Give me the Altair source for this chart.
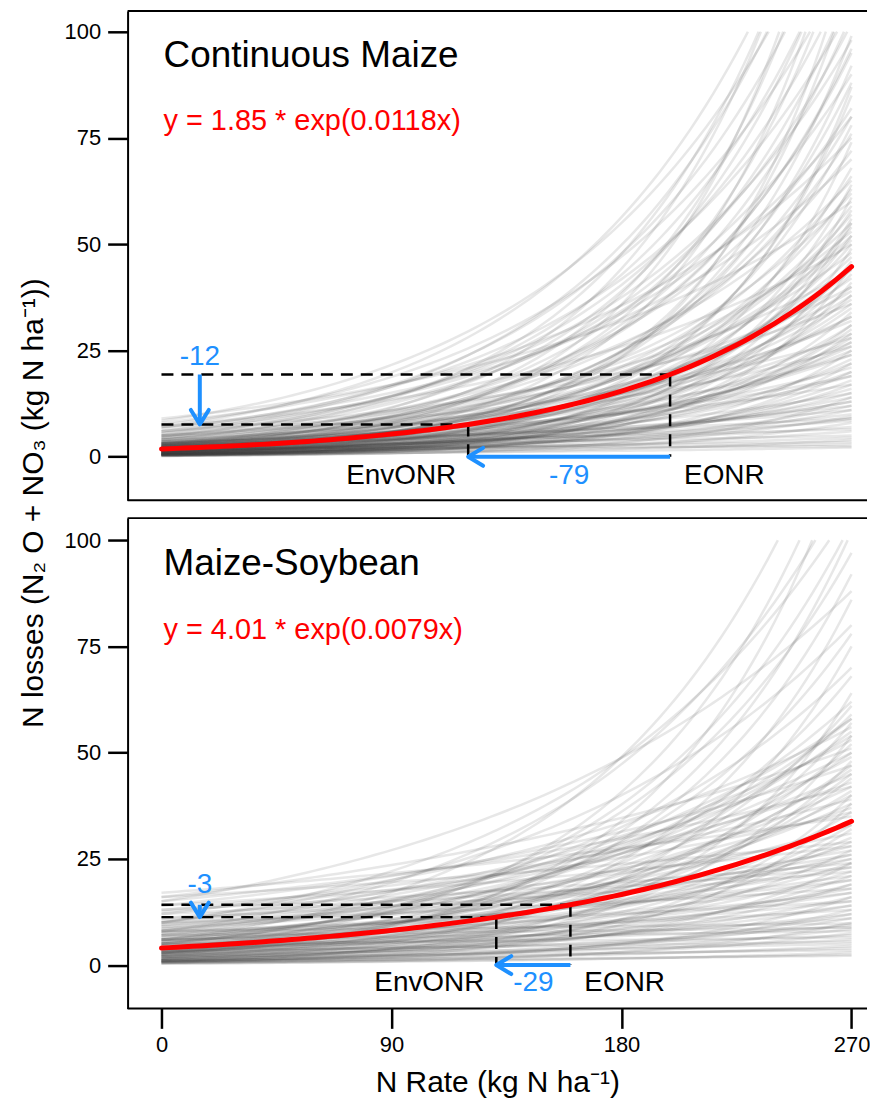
import numpy as np
import pandas as pd
import altair as alt

FONT = "Liberation Sans"
BLUE = "#1E90FF"
RED = "#FF0000"

# ---------------- data ----------------
# individual site-year response curves, read as (loss at 0 N, loss at 270 N)
cm_start = [7.0, 5.5, 8.5, 4.0, 3.0, 6.0, 2.5, 4.8, 1.8, 3.5, 7.5, 2.2, 5.0, 1.5, 3.2, 6.5, 2.8, 1.2, 4.4, 0.9,
            3.0, 1.5, 5.0, 2.0, 0.8, 4.0, 6.0, 1.2, 2.6, 0.5, 3.5, 7.0, 1.0, 2.2, 4.5, 0.6, 1.8, 3.2, 0.4, 2.8,
            1.4, 5.5, 0.7, 2.4, 8.0,
            1.0, 2.0, 0.5, 3.0, 1.5, 4.0, 0.8, 2.5, 1.2, 0.3, 3.5, 1.8, 0.6, 2.2, 5.0, 1.0, 2.8, 0.4, 1.6, 3.2,
            0.9, 2.0, 6.0, 1.3, 0.5, 2.4, 3.8, 1.1, 0.7, 1.9, 2.6, 0.2, 4.5, 1.4, 3.0, 0.6, 7.0, 1.7, 2.3, 0.35,
            0.5, 1.0, 2.0, 1.5, 0.3, 3.0, 0.8, 1.2, 2.5, 0.4, 1.8, 0.6, 3.5, 1.0, 2.2, 0.2, 1.4, 0.7, 2.8, 1.6,
            0.9, 2.0, 1.1, 4.0, 0.5, 1.3, 2.4, 0.3, 5.0, 0.6, 1.7, 3.2, 0.8, 1.5, 2.6,
            0.5, 1.0, 2.0, 0.3, 1.5, 3.0, 0.8, 2.5, 1.2, 0.4, 1.8, 1.0, 2.0, 0.6, 3.5, 9.0]
cm_end = [160, 150, 140, 165, 170, 135, 150, 128, 160, 130, 118, 125, 115, 135, 110, 106, 104, 112, 102, 120,
          95, 92, 90, 88, 85, 82, 80, 78, 76, 74, 72, 70, 68, 66, 65, 64, 63, 62, 61, 96,
          99, 98, 87, 80, 75,
          58, 57, 56, 55, 54, 53, 52, 51, 50, 49, 48, 47, 46, 45, 44, 43, 42, 41, 40, 39,
          38, 37, 36, 35, 34, 33, 32, 31, 30, 59, 52, 45, 40, 36, 33, 31, 50, 44, 38, 55,
          29, 28, 27, 26, 25, 24, 23, 22, 21, 20, 19, 18, 17, 16, 15, 14, 13, 12, 11, 10,
          27, 24, 20, 26, 17, 14, 12, 22, 28, 11, 25, 19, 15, 13, 29,
          9.5, 9, 8.5, 8, 7, 6.5, 6, 5, 4.5, 4, 3.5, 3, 2.5, 2.2, 9, 60]

ms_start = [6.0, 4.0, 8.0, 2.5, 10.0, 5.0, 3.0,
            5.0, 3.0, 15.0, 2.0, 10.0, 4.0, 1.5, 7.0, 3.5, 1.0, 5.5, 2.8,
            4.0, 8.0, 2.0, 12.0, 6.0, 1.0, 10.0, 3.0, 16.0, 5.0, 7.5, 1.5, 14.0, 4.5, 9.0, 2.5, 11.0, 6.5, 3.5, 0.8,
            13.0, 5.5, 8.5, 2.2, 17.0, 4.2, 7.0, 1.2, 10.5, 3.2, 6.0, 9.5, 2.8, 5.0, 12.5, 1.8, 15.0, 7.8, 3.8, 0.6,
            3.0, 6.0, 1.5, 9.0, 4.5, 0.8, 12.0, 2.5, 7.0, 5.0, 1.2, 10.0, 3.5, 0.5, 8.0, 2.0, 6.0, 1.0, 4.0, 0.3,
            14.0, 5.5, 2.8, 11.0, 7.5, 3.8, 1.6, 9.5, 4.8, 0.7, 16.0, 6.5, 2.2, 8.5, 1.4, 3.2, 5.8, 0.9, 13.0, 2.6,
            2.0, 4.0, 1.0, 6.0, 0.5, 3.0, 8.0, 1.5, 2.5, 0.8, 5.0, 1.2, 0.4, 2.0, 3.5, 0.6, 1.0, 7.0]
ms_end = [140, 130, 115, 125, 108, 104, 102,
          97, 92, 88, 86, 80, 78, 75, 70, 68, 64, 62, 61,
          59, 58, 57, 56, 55, 54, 53, 52, 51, 50, 49, 48, 47, 46, 45, 44, 43, 42, 41, 40,
          39, 38, 37, 36, 35, 34, 33, 32, 31, 30, 58, 50, 45, 40, 36, 33, 42, 54, 47, 38,
          29, 28, 27, 26, 25, 24, 23, 22, 21, 20, 19, 18, 17, 16, 15, 14, 13, 12, 11, 10,
          28, 26, 24, 22, 20, 18, 16, 27, 15, 13, 29, 23, 19, 25, 21, 14, 17, 11, 24, 12,
          9.5, 9, 8.5, 8, 7.5, 7, 9.8, 6, 5, 4.5, 6.5, 4, 3, 3.5, 5.5, 2.5, 2.2, 8.8]

panel_names = ["Continuous Maize", "Maize-Soybean"]
fit_a = [1.85, 4.01]
fit_b = [0.0118, 0.0079]
fit_labels = ["y = 1.85 * exp(0.0118x)", "y = 4.01 * exp(0.0079x)"]
eonr = [199, 160]
envonr = [120, 131]
rate_change = ["-79", "-29"]
loss_change = ["-12", "-3"]

x_ticks = [0, 90, 180, 270]
y_ticks = [0, 25, 50, 75, 100]
N_MAX = 270
LOSS_CAP = 100

# ---------------- layout constants ----------------
W = 742
H = [491, 492]
X_DOM = [-13.26, 276.05]
Y_DOM = [[-10.2, 104.9], [-10.2, 105.2]]
ARROW_X = 15
NAME_POS = (0.8, 91.8)
EQ_POS = (0.8, 76.8)
LOSS_LABEL_Y = [21.7, 17.0]
RATE_LABEL_Y = [-6.4, -6.0]

x_grid = np.arange(0, N_MAX + 1, 3, dtype=float)


def curve_frame(starts, ends):
    rows = []
    for i, (a, e) in enumerate(zip(starts, ends)):
        b = np.log(e / a) / N_MAX
        for x in x_grid:
            y = a * np.exp(b * x)
            if y > LOSS_CAP:
                rows.append((i, np.log(LOSS_CAP / a) / b, LOSS_CAP))
                break
            rows.append((i, x, y))
    return pd.DataFrame(rows, columns=["id", "x", "y"])


def panel(k, starts, ends, show_x):
    a, b = fit_a[k], fit_b[k]
    f = lambda x: a * np.exp(b * x)
    hi, lo = eonr[k], envonr[k]
    xs = alt.Scale(domain=X_DOM, nice=False, zero=False)
    ys = alt.Scale(domain=Y_DOM[k], nice=False, zero=False)
    if show_x:
        xaxis = alt.Axis(values=x_ticks, domain=False, labelPadding=6, titlePadding=12,
                         labelFlush=False, title="N Rate (kg N ha\u207b\u00b9)")
    else:
        xaxis = None
    yaxis = alt.Axis(values=y_ticks, domain=True, labelPadding=7, title=None, labelFlush=False)

    def X(field="x"):
        return alt.X(f"{field}:Q", scale=xs, axis=xaxis)

    def Y(field="y"):
        return alt.Y(f"{field}:Q", scale=ys, axis=yaxis)

    gray = alt.Chart(curve_frame(starts, ends)).mark_line(
        color="#3a3a3a", opacity=0.12, strokeWidth=2.5
    ).encode(x=X(), y=Y(), detail="id:N")

    red_df = pd.DataFrame({"x": x_grid, "y": f(x_grid)})
    red = alt.Chart(red_df).mark_line(color=RED, strokeWidth=5, strokeCap="round").encode(x=X(), y=Y())

    dash_df = pd.DataFrame({
        "x": [0, 0, hi, lo], "x2": [hi, lo, hi, lo],
        "y": [f(hi), f(lo), f(hi), f(lo)], "y2": [f(hi), f(lo), 0, 0],
    })
    dashes = alt.Chart(dash_df).mark_rule(color="black", strokeWidth=2.5, strokeDash=[12, 8]).encode(
        x=X(), x2="x2:Q", y=Y(), y2="y2:Q")

    shaft_df = pd.DataFrame({
        "x": [hi, ARROW_X], "x2": [lo, ARROW_X], "y": [0, f(hi)], "y2": [0, f(lo)],
    })
    shafts = alt.Chart(shaft_df).mark_rule(color=BLUE, strokeWidth=4).encode(
        x=X(), x2="x2:Q", y=Y(), y2="y2:Q")
    head_left = alt.Chart(pd.DataFrame({"x": [lo], "y": [0]})).mark_point(
        shape="M1,-0.6L0,0L1,0.6", filled=False, size=900, strokeWidth=4, color=BLUE,
        opacity=1, strokeJoin="round", strokeCap="round").encode(x=X(), y=Y())
    head_down = alt.Chart(pd.DataFrame({"x": [ARROW_X], "y": [f(lo)]})).mark_point(
        shape="M-0.62,-1L0,0L0.62,-1", filled=False, size=841, strokeWidth=4, color=BLUE,
        opacity=1, strokeJoin="round", strokeCap="round").encode(x=X(), y=Y())

    def txt(df, **kw):
        return alt.Chart(df).mark_text(font=FONT, **kw).encode(x=X(), y=Y(), text="t:N")

    name = txt(pd.DataFrame({"x": [NAME_POS[0]], "y": [NAME_POS[1]], "t": [panel_names[k]]}),
               align="left", baseline="alphabetic", fontSize=37, color="black")
    eq = txt(pd.DataFrame({"x": [EQ_POS[0]], "y": [EQ_POS[1]], "t": [fit_labels[k]]}),
             align="left", baseline="alphabetic", fontSize=29, color=RED)
    blue_txt = txt(pd.DataFrame({"x": [ARROW_X, (hi + lo) / 2], "y": [LOSS_LABEL_Y[k], RATE_LABEL_Y[k]],
                                 "t": [loss_change[k], rate_change[k]]}),
                   align="center", baseline="alphabetic", fontSize=28, color=BLUE)
    env_txt = txt(pd.DataFrame({"x": [lo], "y": [RATE_LABEL_Y[k]], "t": ["EnvONR"]}),
                  align="right", baseline="alphabetic", fontSize=28, color="black", dx=-12)
    eo_txt = txt(pd.DataFrame({"x": [hi], "y": [RATE_LABEL_Y[k]], "t": ["EONR"]}),
                 align="left", baseline="alphabetic", fontSize=28, color="black", dx=14)

    frame_df = pd.DataFrame({"p": [0]})
    frame_top = alt.Chart(frame_df).mark_rule(color="black", strokeWidth=2).encode(
        x=alt.value(0), x2=alt.value(W), y=alt.value(0))
    frame_bot = alt.Chart(frame_df).mark_rule(color="black", strokeWidth=2).encode(
        x=alt.value(0), x2=alt.value(W), y=alt.value(H[k]))

    layers = [gray, dashes, red, shafts, head_left, head_down, name, eq, blue_txt, env_txt, eo_txt,
              frame_top, frame_bot]
    if k == 0:
        ytitle = alt.Chart(pd.DataFrame({"t": ["N losses (N\u2082 O + NO\u2083 (kg N ha\u207b\u00b9))"]})).mark_text(
            font=FONT, fontSize=30, angle=270, align="center", baseline="alphabetic", color="black"
        ).encode(text="t:N", x=alt.value(-85), y=alt.value(494))
        layers.append(ytitle)
    return alt.layer(*layers).properties(width=W, height=H[k])


top = panel(0, cm_start, cm_end, show_x=False)
bottom = panel(1, ms_start, ms_end, show_x=True)

chart = alt.vconcat(top, bottom, spacing=18, bounds="flush").properties(
    padding={"left": 11, "top": 0, "right": 0, "bottom": 0}
).configure_view(strokeWidth=0, stroke="transparent").configure_axis(
    labelFont=FONT, titleFont=FONT, labelFontSize=22, labelColor="black",
    tickColor="black", tickWidth=2.5, tickSize=20, domainColor="black", domainWidth=2,
    grid=False, titleFontWeight="normal", titleFontSize=30, titleColor="black"
).configure_text(font=FONT)

chart.save("out.html", embed_options={"renderer": "svg", "actions": False})
